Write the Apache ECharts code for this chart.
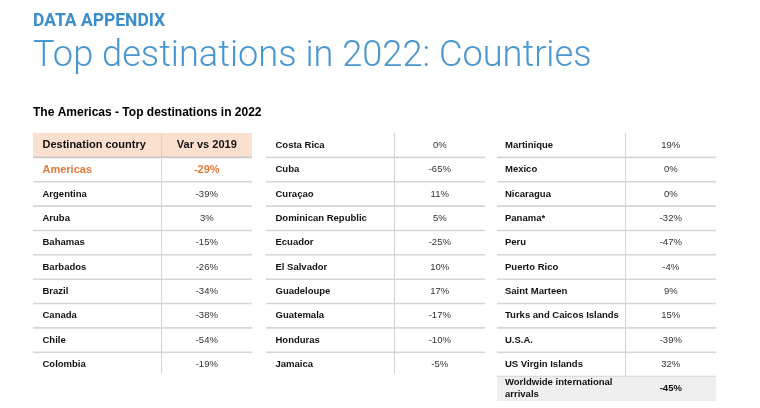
<!DOCTYPE html>
<html>
<head>
<meta charset="utf-8">
<script src="https://cdn.jsdelivr.net/npm/echarts@6/dist/echarts.min.js"></script>
<style>
html, body { margin: 0; padding: 0; background: #fff; }
#chart { width: 760px; height: 408px; }
</style>
</head>
<body>
<div id="chart"></div>
<script>
// table contents
var headerCols = ['Destination country', 'Var vs 2019'];
var regionName = 'Americas';
var regionVar = -29;

var countries1 = ['Argentina', 'Aruba', 'Bahamas', 'Barbados', 'Brazil', 'Canada', 'Chile', 'Colombia'];
var variance1 = [-39, 3, -15, -26, -34, -38, -54, -19];

var countries2 = ['Costa Rica', 'Cuba', 'Curaçao', 'Dominican Republic', 'Ecuador', 'El Salvador', 'Guadeloupe', 'Guatemala', 'Honduras', 'Jamaica'];
var variance2 = [0, -65, 11, 5, -25, 10, 17, -17, -10, -5];

var countries3 = ['Martinique', 'Mexico', 'Nicaragua', 'Panama*', 'Peru', 'Puerto Rico', 'Saint Marteen', 'Turks and Caicos Islands', 'U.S.A.', 'US Virgin Islands'];
var variance3 = [19, 0, 0, -32, -47, -4, 9, 15, -39, 32];

var worldLabel = 'Worldwide international\narrivals';
var worldVar = -45;

var rowSlots = ['0', '1', '2', '3', '4', '5', '6', '7', '8', '9', '10'];

function pct(v) { return v + '%'; }

// build the three column blocks
var block1 = [{ kind: 'header', name: headerCols[0], val: headerCols[1] },
              { kind: 'region', name: regionName, val: pct(regionVar) }];
countries1.forEach(function (c, i) { block1.push({ kind: 'row', name: c, val: pct(variance1[i]) }); });

var block2 = [];
countries2.forEach(function (c, i) { block2.push({ kind: 'row', name: c, val: pct(variance2[i]) }); });

var block3 = [];
countries3.forEach(function (c, i) { block3.push({ kind: 'row', name: c, val: pct(variance3[i]) }); });
block3.push({ kind: 'total', name: worldLabel, val: pct(worldVar) });

var blocks = [block1, block2, block3];
var blockLeft = [33, 266, 497];
var nameInset = [9.5, 9.5, 8];
var splitRatio = 0.587;

function makeRender(rows, b) {
    return function (params, api) {
        var r = rows[params.dataIndex];
        var cs = params.coordSys;
        var center = api.coord([0, api.value(1)]);
        var h = api.size([0, 1])[1];
        var top = center[1] - h / 2;
        var bottom = center[1] + h / 2;
        var x0 = cs.x, x1 = cs.x + cs.width;
        var xs = cs.x + cs.width * splitRatio;
        var children = [];
        var isLast = params.dataIndex === rows.length - 1;

        if (r.kind === 'header') {
            children.push({ type: 'rect', shape: { x: x0, y: top, width: cs.width, height: h }, style: { fill: '#fbdfcf' } });
        }
        if (r.kind === 'total') {
            children.push({ type: 'rect', shape: { x: x0, y: top, width: cs.width, height: h }, style: { fill: '#efefef' } });
        } else {
            children.push({ type: 'line', shape: { x1: xs, y1: top, x2: xs, y2: isLast ? bottom - 3 : bottom }, style: { stroke: '#d2d2d2', lineWidth: 1 } });
        }
        if (!isLast) {
            children.push({ type: 'line', shape: { x1: x0, y1: bottom, x2: x1, y2: bottom },
                style: { stroke: r.kind === 'header' ? '#c9c9c9' : '#d6d6d6', lineWidth: 1.6 } });
        }

        var nameColor = '#111', valColor = '#333', nameSize = 9.5, valSize = 9.5, valWeight = 'normal';
        if (r.kind === 'header') { nameSize = 11; valSize = 11; valWeight = 'bold'; valColor = '#111'; }
        if (r.kind === 'region') { nameColor = '#e07a3a'; valColor = '#e07a3a'; nameSize = 11; valSize = 11; valWeight = 'bold'; }
        if (r.kind === 'total') { valWeight = 'bold'; valColor = '#111'; }

        children.push({
            type: 'text',
            style: {
                x: x0 + nameInset[b], y: center[1], text: r.name,
                fill: nameColor, font: 'bold ' + nameSize + 'px "Liberation Sans", Arial, sans-serif',
                align: 'left', verticalAlign: 'middle', lineHeight: 12
            }
        });
        children.push({
            type: 'text',
            style: {
                x: (xs + x1) / 2, y: center[1], text: r.val,
                fill: valColor, font: valWeight + ' ' + valSize + 'px "Liberation Sans", Arial, sans-serif',
                align: 'center', verticalAlign: 'middle'
            }
        });
        return { type: 'group', children: children };
    };
}

var grids = [], xAxes = [], yAxes = [], series = [];
blocks.forEach(function (rows, b) {
    grids.push({ left: blockLeft[b], top: 133, width: 219, height: 268 });
    xAxes.push({ gridIndex: b, type: 'value', min: 0, max: 1, show: false });
    yAxes.push({ gridIndex: b, type: 'category', data: rowSlots, inverse: true, show: false });
    series.push({
        type: 'custom',
        xAxisIndex: b,
        yAxisIndex: b,
        silent: true,
        clip: false,
        renderItem: makeRender(rows, b),
        data: rows.map(function (r, i) { return [0, i]; })
    });
});

var myChart = echarts.init(document.getElementById('chart'));
myChart.setOption({
    animation: false,
    title: [
        {
            text: 'DATA APPENDIX', left: 28, top: 8,
            textStyle: { fontFamily: 'Roboto', fontWeight: 'bold', fontSize: 17.5, color: '#3b8ecb' }
        },
        {
            text: 'Top destinations in 2022: Countries', left: 28, top: 34,
            textStyle: { fontFamily: 'Roboto', fontWeight: 300, fontSize: 36.2, color: '#4a97cf' }
        },
        {
            text: 'The Americas - Top destinations in 2022', left: 28, top: 102,
            textStyle: { fontFamily: 'Liberation Sans', fontWeight: 'bold', fontSize: 12, color: '#000' }
        }
    ],
    grid: grids,
    xAxis: xAxes,
    yAxis: yAxes,
    series: series
});
</script>
</body>
</html>
